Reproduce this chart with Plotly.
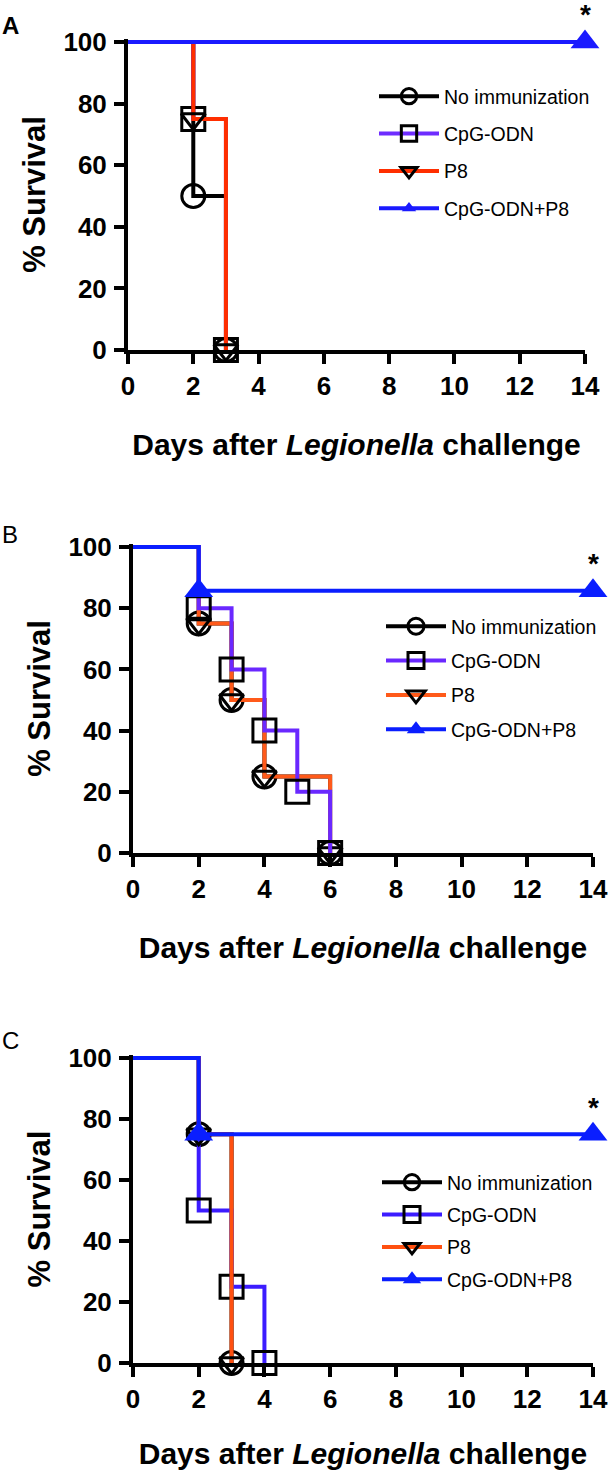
import plotly.graph_objects as go

# ---------------- data ----------------
series_names = ["No immunization", "CpG-ODN", "P8", "CpG-ODN+P8"]

# Panel A
days_A_none = [0, 2, 3]
surv_A_none = [100, 50, 0]
days_A_cpg = [0, 2, 3]
surv_A_cpg = [100, 75, 0]
days_A_p8 = [0, 2, 3]
surv_A_p8 = [100, 75, 0]
days_A_combo = [0, 14]
surv_A_combo = [100, 100]

# Panel B
days_B_none = [0, 2, 3, 4, 6]
surv_B_none = [100, 75, 50, 25, 0]
days_B_cpg = [0, 2, 3, 4, 5, 6]
surv_B_cpg = [100, 80, 60, 40, 20, 0]
days_B_p8 = [0, 2, 3, 4, 6]
surv_B_p8 = [100, 75, 50, 25, 0]
days_B_combo = [0, 2, 14]
surv_B_combo = [100, 85.7, 85.7]

# Panel C
days_C_none = [0, 2, 3]
surv_C_none = [100, 75, 0]
days_C_cpg = [0, 2, 3, 4]
surv_C_cpg = [100, 50, 25, 0]
days_C_p8 = [0, 2, 3]
surv_C_p8 = [100, 75, 0]
days_C_combo = [0, 2, 14]
surv_C_combo = [100, 75, 75]

x_ticks = [0, 2, 4, 6, 8, 10, 12, 14]
y_ticks = [0, 20, 40, 60, 80, 100]
panel_letters = ["A", "B", "C"]
x_title = "Days after <i>Legionella</i> challenge"
y_title = "% Survival"

# ---------------- styles ----------------
W, H = 610, 1470
FONT = "Liberation Sans, Arial, Helvetica, sans-serif"
Y_TOP = 101  # small headroom so the 100 % line is not clipped

panel_px = {  # left, right, top(100%), bottom(0%) in pixels
    "A": (128, 585, 42, 350),
    "B": (133, 593, 547, 853),
    "C": (133, 593, 1058, 1363),
}
colors = {
    "A": ["#000000", "#6e2cff", "#ff2e00", "#1a1aff"],
    "B": ["#000000", "#6a28ff", "#ff5a1a", "#0a1eff"],
    "C": ["#000000", "#3c1cff", "#ff5010", "#0a1eff"],
}
draw_order = {"A": [0, 1, 2, 3], "B": [0, 2, 1, 3], "C": [0, 1, 2, 3]}
symbols = ["circle", "square", "triangle-down", "triangle-up"]
msizes = [23, 23, 21, 25]
legend_pos = {"A": (374, 77, 9), "B": (381, 607, 6), "C": (377, 1163, 4)}

data = {
    "A": [(days_A_none, surv_A_none), (days_A_cpg, surv_A_cpg), (days_A_p8, surv_A_p8), (days_A_combo, surv_A_combo)],
    "B": [(days_B_none, surv_B_none), (days_B_cpg, surv_B_cpg), (days_B_p8, surv_B_p8), (days_B_combo, surv_B_combo)],
    "C": [(days_C_none, surv_C_none), (days_C_cpg, surv_C_cpg), (days_C_p8, surv_C_p8), (days_C_combo, surv_C_combo)],
}

fig = go.Figure()
layout_axes = {}
annotations = []
legends = {}

for pi, p in enumerate(["A", "B", "C"]):
    sfx = "" if pi == 0 else str(pi + 1)
    xa, ya = "x" + sfx, "y" + sfx
    legname = "legend" + sfx
    for si in draw_order[p]:
        days, surv = data[p][si]
        col = colors[p][si]
        filled = si == 3
        sizes = [0] + [msizes[si]] * (len(days) - 1)
        fig.add_trace(go.Scatter(
            x=days, y=surv, mode="lines+markers", name=series_names[si],
            line=dict(color=col, width=4, shape="hv"),
            marker=dict(symbol=symbols[si], size=sizes, opacity=1,
                        color=col if filled else "rgba(0,0,0,0)",
                        line=dict(color=col if filled else "#000000", width=0 if filled else 3)),
            xaxis=xa, yaxis=ya, cliponaxis=False, legend=legname,
            legendgroup=p + str(si), legendrank=si + 1, showlegend=True,
        ))
    l, r, t, b = panel_px[p]
    t_dom = t - (Y_TOP - 100) * (b - t) / 100.0
    axis_common = dict(showline=True, linewidth=4, linecolor="#000000", ticks="outside",
                       ticklen=10, tickwidth=4, tickcolor="#000000", showgrid=False,
                       zeroline=False, automargin=False,
                       tickfont=dict(family=FONT, size=26, color="#000000", weight="bold"))
    layout_axes["xaxis" + sfx] = dict(axis_common, domain=[l / W, r / W], range=[0, 14],
                                      tickvals=x_ticks, anchor=ya, ticklabelstandoff=0,
                                      title=dict(text=x_title, standoff=35,
                                                 font=dict(family=FONT, size=30, color="#000000", weight="bold")))
    layout_axes["yaxis" + sfx] = dict(axis_common, domain=[1 - b / H, 1 - t_dom / H], range=[0, Y_TOP],
                                      tickvals=y_ticks, anchor=xa, ticklabelstandoff=2,
                                      title=dict(text=y_title, standoff=10,
                                                 font=dict(family=FONT, size=31, color="#000000", weight="bold")))
    # significance star
    annotations.append(dict(x=14, y=data[p][3][1][-1], xref=xa, yref=ya, text="*", showarrow=False,
                            yshift=27, font=dict(family=FONT, size=28, color="#000000", weight="bold")))
    # panel letter
    ly = {"A": 26, "B": 534, "C": 1040}[p]
    annotations.append(dict(x=10 / W, y=1 - ly / H, xref="paper", yref="paper", text=panel_letters[pi],
                            showarrow=False, xanchor="center", yanchor="middle",
                            font=dict(family=FONT, size=24, color="#000000",
                                      weight="bold" if p == "A" else "normal")))
    lx, lyy, gap = legend_pos[p]
    legends[legname] = dict(x=lx / W, y=1 - lyy / H, xanchor="left", yanchor="top",
                            bgcolor="rgba(0,0,0,0)", borderwidth=0, itemwidth=60,
                            tracegroupgap=gap, traceorder="grouped",
                            font=dict(family=FONT, size=19.5, color="#000000"))

fig.update_layout(width=W, height=H, margin=dict(l=0, r=0, t=0, b=0, autoexpand=False),
                  paper_bgcolor="#ffffff", plot_bgcolor="#ffffff",
                  showlegend=True, annotations=annotations, **layout_axes, **legends)

fig.write_html("out.html", config={"displayModeBar": False},
               post_script="document.body.style.margin='0px';")
